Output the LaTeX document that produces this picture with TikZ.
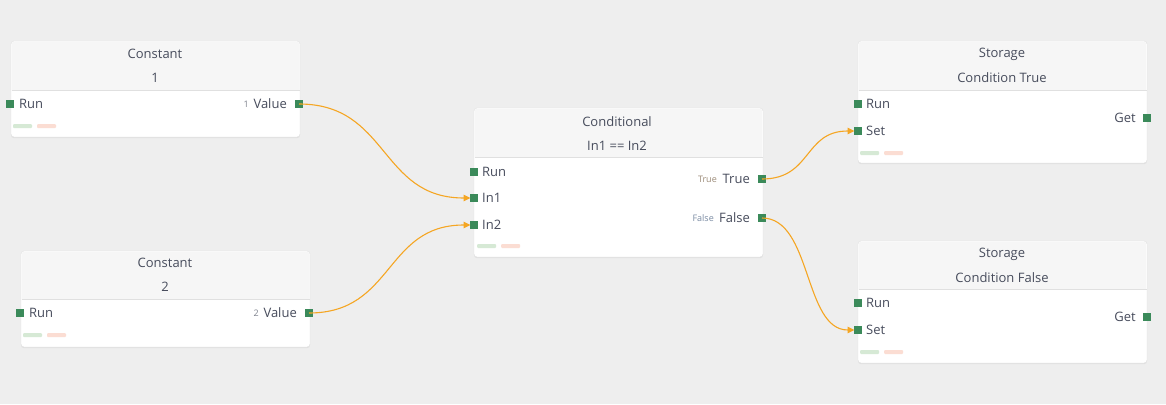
\documentclass[tikz,border=0pt]{standalone}
\usepackage{fontspec}
\setmainfont{Open Sans}
\usetikzlibrary{arrows.meta,calc,shadows}
\definecolor{bgc}{HTML}{EEEEEE}
\definecolor{hdrc}{HTML}{F6F6F6}
\definecolor{linec}{HTML}{E0E0E0}
\definecolor{txtc}{HTML}{474C5C}
\definecolor{portc}{HTML}{3B8A5A}
\definecolor{wirec}{HTML}{F5A623}
\definecolor{okbar}{HTML}{D6E9D5}
\definecolor{errbar}{HTML}{FBDDD3}
\definecolor{truec}{HTML}{9C8B78}
\definecolor{falsec}{HTML}{7A8BA3}
\tikzset{
  box/.style={draw=linec, fill=white, rounded corners=3pt, inner sep=0pt, outer sep=0pt,
    drop shadow={shadow xshift=0pt, shadow yshift=-1.2pt, opacity=0.12}},
  hdr/.style={fill=hdrc},
  divline/.style={draw=linec, line width=0.8pt},
  port/.style={rectangle, fill=portc, minimum size=8pt, inner sep=0pt, outer sep=0pt},
  lbl/.style={text=txtc, font=\fontsize{13}{15}\selectfont, inner sep=0pt},
  small/.style={text=txtc!70, font=\fontsize{9}{10}\selectfont, inner sep=0pt},
  okb/.style={fill=okbar},
  errb/.style={fill=errbar},
  wire/.style={draw=wirec, line width=1.1pt, -{Triangle[length=7pt,width=6.5pt]}}
}
\newcommand\blk[6]{%
  \node[box, anchor=north west, minimum width=#4-#2, minimum height=#5-#3] (#1) at (#2,#3) {};
  \begin{scope}
    \clip[rounded corners=3pt] (#2+0.5,#3+0.5) rectangle (#4-0.5,#5-0.5);
    \fill[hdr] (#2,#3) rectangle (#4,#6);
  \end{scope}
  \draw[divline] (#2+0.5,#6) -- (#4-0.5,#6);
}
\newcommand\bars[3]{%
  \fill[okb, rounded corners=1pt] (#1,#3-2) rectangle (#1+19,#3+2);
  \fill[errb, rounded corners=1pt] (#2,#3-2) rectangle (#2+19,#3+2);
}
\begin{document}
\begin{tikzpicture}[x=1pt,y=-1pt]
\fill[bgc] (0,0) rectangle (1166,404);
\useasboundingbox (0,0) rectangle (1166,404);

% ---------- Constant 1 ----------
\blk{k1}{11}{41}{300}{137}{90}
\node[lbl] (k1t) at (155,54) {Constant};
\node[lbl] (k1s) at (155,78) {1};
\node[port] (k1run) at (10,104) {};
\node[lbl, anchor=west] (k1runl) at (19,104) {Run};
\node[port] (k1val) at (299,104) {};
\node[lbl, anchor=east] (k1vall) at (287,104) {Value};
\node[small, anchor=east] (k1valv) at (249,104.5) {1};
\bars{13}{37}{126}

% ---------- Constant 2 ----------
\blk{k2}{21}{251}{310}{347}{299}
\node[lbl] (k2t) at (165,263) {Constant};
\node[lbl] (k2s) at (165,287) {2};
\node[port] (k2run) at (20,313) {};
\node[lbl, anchor=west] (k2runl) at (29,313) {Run};
\node[port] (k2val) at (309,313) {};
\node[lbl, anchor=east] (k2vall) at (297,313) {Value};
\node[small, anchor=east] (k2valv) at (259,313.5) {2};
\bars{23}{47}{335}

% ---------- Conditional ----------
\blk{cd}{474}{108}{763}{257}{157}
\node[lbl] (cdt) at (617,122) {Conditional};
\node[lbl] (cds) at (617,146) {In1 == In2};
\node[port] (cdrun) at (473.5,172) {};
\node[lbl, anchor=west] (cdrunl) at (482,172) {Run};
\node[port] (cdin1) at (473.5,198) {};
\node[lbl, anchor=west] (cdin1l) at (482,198) {In1};
\node[port] (cdin2) at (473.5,225) {};
\node[lbl, anchor=west] (cdin2l) at (482,225) {In2};
\node[port] (cdtrue) at (762,179) {};
\node[lbl, anchor=east] (cdtruel) at (750,179) {True};
\node[small, text=truec, anchor=east] (cdtruev) at (717,179.5) {True};
\node[port] (cdfalse) at (762,218) {};
\node[lbl, anchor=east] (cdfalsel) at (750,218) {False};
\node[small, text=falsec, anchor=east] (cdfalsev) at (714,218.5) {False};
\bars{477}{501}{246}

% ---------- Storage True ----------
\blk{st}{858}{41}{1147}{163}{90}
\node[lbl] (stt) at (1002,54) {Storage};
\node[lbl] (sts) at (1002,78) {Condition True};
\node[port] (strun) at (857.5,104) {};
\node[lbl, anchor=west] (strunl) at (866,104) {Run};
\node[port] (stset) at (857.5,131) {};
\node[lbl, anchor=west] (stsetl) at (866,131) {Set};
\node[port] (stget) at (1147,118) {};
\node[lbl, anchor=east] (stgetl) at (1136,118) {Get};
\bars{860}{884}{153}

% ---------- Storage False ----------
\blk{sf}{858}{241}{1147}{363}{289}
\node[lbl] (sft) at (1002,254) {Storage};
\node[lbl] (sfs) at (1002,278) {Condition False};
\node[port] (sfrun) at (857.5,303) {};
\node[lbl, anchor=west] (sfrunl) at (866,303) {Run};
\node[port] (sfset) at (857.5,330) {};
\node[lbl, anchor=west] (sfsetl) at (866,330) {Set};
\node[port] (sfget) at (1147,317) {};
\node[lbl, anchor=east] (sfgetl) at (1136,317) {Get};
\bars{860}{884}{352}

% ---------- wires ----------
\draw[wire] (k1val.center) .. controls ($(k1val.center)+(90,0)$) and ($(cdin1.west)+(-90,0)$) .. ([xshift=1pt]cdin1.west);
\draw[wire] (k2val.center) .. controls ($(k2val.center)+(85,0)$) and ($(cdin2.west)+(-85,0)$) .. ([xshift=1pt]cdin2.west);
\draw[wire] (cdtrue.center) .. controls ($(cdtrue.center)+(50,0)$) and ($(stset.west)+(-50,0)$) .. ([xshift=1pt]stset.west);
\draw[wire] (cdfalse.center) .. controls ($(cdfalse.center)+(50,0)$) and ($(sfset.west)+(-50,0)$) .. ([xshift=1pt]sfset.west);
\end{tikzpicture}
\end{document}
